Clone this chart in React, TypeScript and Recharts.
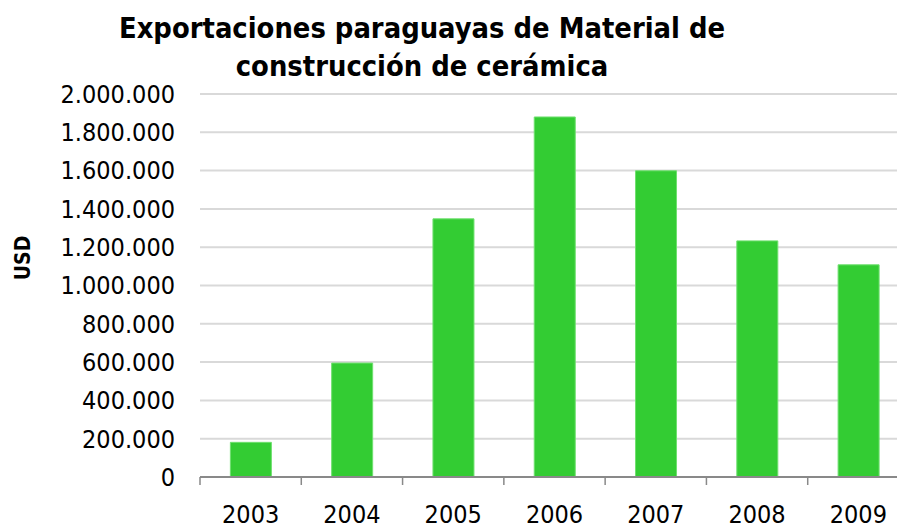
import { Bar, BarChart, CartesianGrid, XAxis, YAxis } from "recharts";

const years = ["2003", "2004", "2005", "2006", "2007", "2008", "2009"];
const exportsUsd = [181000, 595000, 1348000, 1880000, 1599000, 1233000, 1108000];
const yTicks = [0, 200000, 400000, 600000, 800000, 1000000, 1200000, 1400000, 1600000, 1800000, 2000000];

const titleLines = ["Exportaciones paraguayas de Material de", "construcción de cerámica"];

const data = years.map((year, i) => ({ year, value: exportsUsd[i] }));

const FONT = "'DejaVu Sans Condensed', 'DejaVu Sans', sans-serif";
const CHART_W = 920;
const CHART_H = 529;
const margin = { top: 94, right: 11, left: 0, bottom: 0 };
const Y_AXIS_W = 200;
const X_AXIS_H = 52;

const formatThousands = (v: number) =>
  String(v).replace(/\B(?=(\d{3})+(?!\d))/g, ".");

const bandWidth = (CHART_W - margin.left - margin.right - Y_AXIS_W) / years.length;

function YearTick(props: any) {
  const { x, y, payload, index } = props;
  const left = x - bandWidth / 2;
  return (
    <g>
      <line x1={left} y1={y} x2={left} y2={y + 8} stroke="#898989" strokeWidth={1.5} />
      {index === years.length - 1 && (
        <line x1={left + bandWidth} y1={y} x2={left + bandWidth} y2={y + 8} stroke="#898989" strokeWidth={1.5} />
      )}
      <text
        x={x}
        y={y + 46}
        textAnchor="middle"
        fontFamily={FONT}
        fontStretch="condensed"
        fontSize={25}
        fill="#000"
      >
        {payload.value}
      </text>
    </g>
  );
}

export default function App() {
  return (
    <div
      style={{
        position: "absolute",
        left: 0,
        top: 0,
        width: 897,
        height: 529,
        overflow: "hidden",
        background: "#fff",
      }}
    >
      <div
        style={{
          position: "absolute",
          left: 0,
          top: 9,
          width: 844,
          textAlign: "center",
          fontFamily: FONT,
          fontStretch: "condensed",
          fontWeight: "bold",
          fontSize: 28.8,
          lineHeight: "38px",
          color: "#000",
        }}
      >
        {titleLines.map((line) => (
          <div key={line}>{line}</div>
        ))}
      </div>
      <div
        style={{
          position: "absolute",
          left: 23,
          top: 258,
          transform: "translate(-50%, -50%) rotate(-90deg)",
          fontFamily: FONT,
          fontStretch: "condensed",
          fontWeight: "bold",
          fontSize: 21,
          color: "#000",
        }}
      >
        USD
      </div>
      <BarChart
        width={CHART_W}
        height={CHART_H}
        data={data}
        margin={margin}
        barCategoryGap="30%"
      >
        <CartesianGrid vertical={false} stroke="#d9d9d9" strokeWidth={2} />
        <XAxis
          dataKey="year"
          height={X_AXIS_H}
          axisLine={{ stroke: "#898989", strokeWidth: 2 }}
          tickLine={false}
          tick={<YearTick />}
          interval={0}
          tickSize={0}
          tickMargin={0}
        />
        <YAxis
          width={Y_AXIS_W}
          domain={[0, 2000000]}
          ticks={yTicks}
          interval={0}
          axisLine={false}
          tickLine={false}
          tickSize={0}
          tickMargin={25}
          tickFormatter={formatThousands}
          tick={{ fontFamily: FONT, fontSize: 25, fill: "#000", fontStretch: "condensed" } as any}
        />
        <Bar
          dataKey="value"
          fill="#33cc33"
          stroke="#6fe06f"
          strokeWidth={1}
          isAnimationActive={false}
        />
      </BarChart>
    </div>
  );
}
